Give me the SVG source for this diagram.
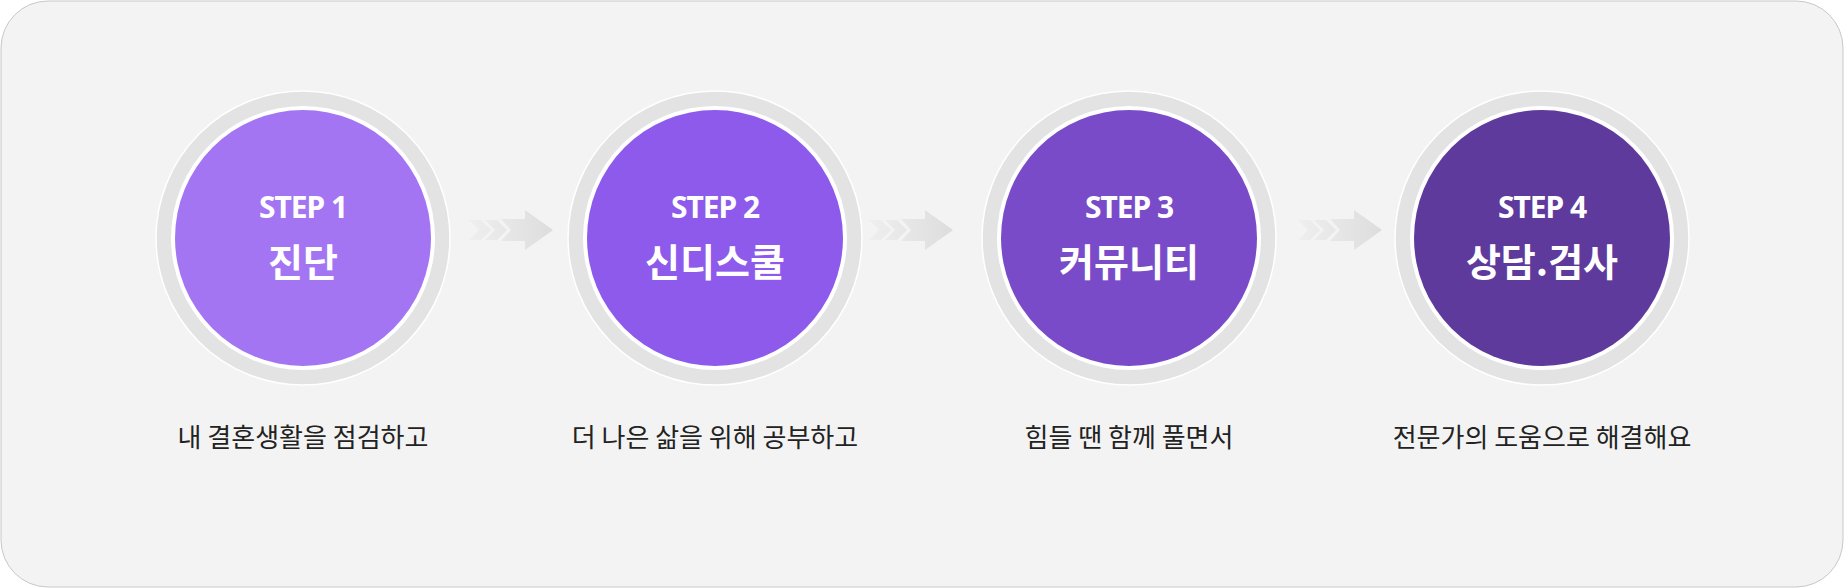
<svg xmlns="http://www.w3.org/2000/svg" width="1844" height="588" viewBox="0 0 1844 588">
<style>
.ring{fill:#e3e3e3;stroke:#fff;stroke-width:1.5}
.w{fill:#fff}
.st{font-family:"Noto Sans","Noto Sans CJK KR",sans-serif;font-weight:700;font-size:30px;fill:#fff;text-anchor:middle;letter-spacing:-1px}
.tt{font-family:"Noto Sans CJK KR",sans-serif;font-weight:700;font-size:38px;fill:#fff;text-anchor:middle}
.ds{font-family:"Noto Sans CJK KR",sans-serif;font-size:26px;fill:#222;text-anchor:middle}
</style>
<defs>
<linearGradient id="ag" x1="0" x2="1"><stop offset="0" stop-color="#ddd" stop-opacity="0.2"/><stop offset="1" stop-color="#ddd"/></linearGradient>
<g id="arr"><path d="M0,-10 h12 l10,10 l-10,10 h-12 l10,-10z M16,-10 h12 l10,10 l-10,10 h-12 l10,-10z M32,-11 h24 v-9 l28,20 l-28,20 v-9 h-24 l10,-11z" fill="url(#ag)"/></g>
</defs>
<rect x="1" y="1" width="1842" height="586" rx="47" fill="#f3f3f3" stroke="#c8c8c8" stroke-width="1"/>
<g id="connectors">
<use href="#arr" x="469" y="230"/>
<use href="#arr" x="869" y="230"/>
<use href="#arr" x="1298" y="230"/>
</g>
<g id="step1"><circle class="ring" cx="303" cy="238" r="147"/><circle class="w" cx="303" cy="238" r="132"/><circle cx="303" cy="238" r="128" fill="#a475f3"/><text class="st" x="303" y="218">STEP 1</text><text class="tt" x="303" y="276">진단</text><text class="ds" x="303" y="447">내 결혼생활을 점검하고</text></g>
<g id="step2"><circle class="ring" cx="715" cy="238" r="147"/><circle class="w" cx="715" cy="238" r="132"/><circle cx="715" cy="238" r="128" fill="#8d5aeb"/><text class="st" x="715" y="218">STEP 2</text><text class="tt" x="715" y="276">신디스쿨</text><text class="ds" x="715" y="447">더 나은 삶을 위해 공부하고</text></g>
<g id="step3"><circle class="ring" cx="1129" cy="238" r="147"/><circle class="w" cx="1129" cy="238" r="132"/><circle cx="1129" cy="238" r="128" fill="#794bc9"/><text class="st" x="1129" y="218">STEP 3</text><text class="tt" x="1129" y="276">커뮤니티</text><text class="ds" x="1129" y="447">힘들 땐 함께 풀면서</text></g>
<g id="step4"><circle class="ring" cx="1542" cy="238" r="147"/><circle class="w" cx="1542" cy="238" r="132"/><circle cx="1542" cy="238" r="128" fill="#5f3a9d"/><text class="st" x="1542" y="218">STEP 4</text><text class="tt" x="1542" y="276">상담.검사</text><text class="ds" x="1542" y="447">전문가의 도움으로 해결해요</text></g>
</svg>
